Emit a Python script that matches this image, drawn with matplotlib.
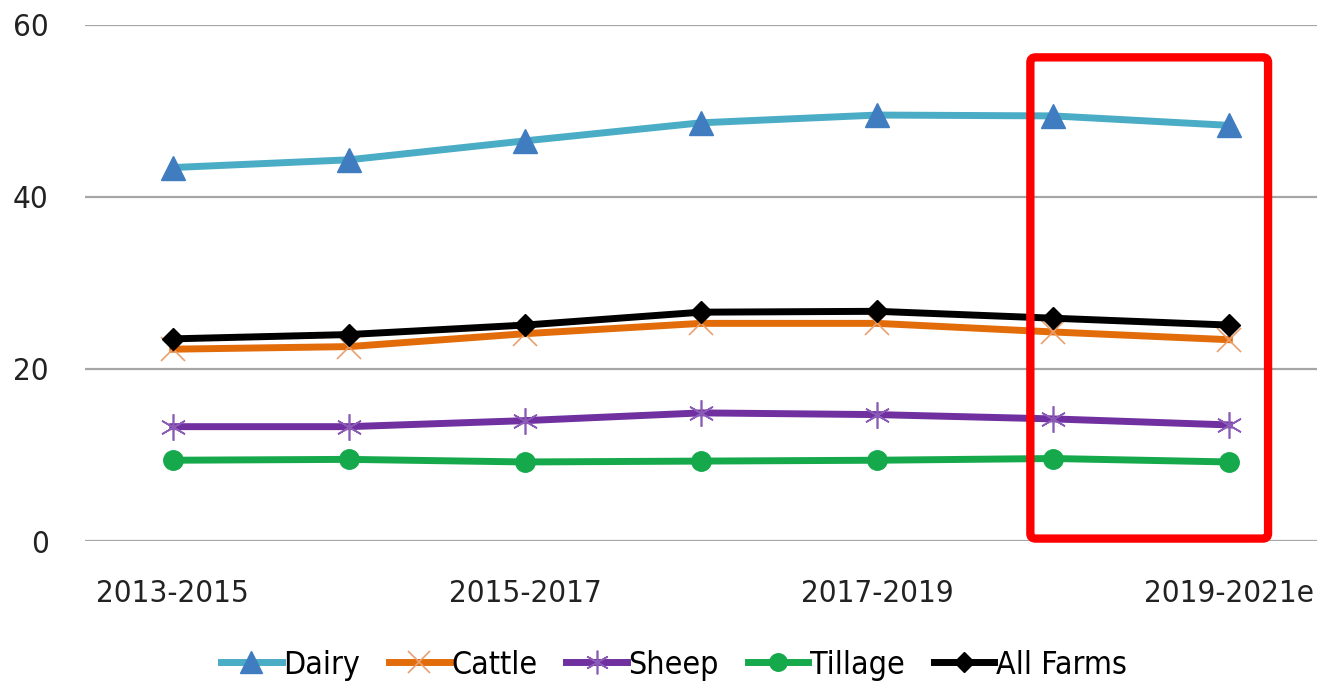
import matplotlib
matplotlib.use('Agg')
import matplotlib.pyplot as plt
from matplotlib.patches import FancyBboxPatch

periods = ['2013-2015', '2014-2016', '2015-2017', '2016-2018',
           '2017-2019', '2018-2020', '2019-2021e']
dairy = [43.4, 44.3, 46.5, 48.6, 49.5, 49.4, 48.3]
cattle = [22.3, 22.6, 24.1, 25.3, 25.3, 24.3, 23.4]
sheep = [13.3, 13.3, 14.0, 14.9, 14.7, 14.2, 13.5]
tillage = [9.4, 9.5, 9.2, 9.3, 9.4, 9.6, 9.2]
all_farms = [23.5, 24.0, 25.1, 26.6, 26.7, 25.9, 25.1]

plt.rcParams['font.family'] = ['DejaVu Sans']
plt.rcParams['font.stretch'] = 'condensed'

fig = plt.figure(figsize=(13.24, 6.85), dpi=100)
ax = fig.add_axes([0.064, 0.21, 0.931, 0.754])

x = list(range(len(periods)))
ax.plot(x, dairy, color='#4BACC6', lw=5, marker='^', ms=17,
        mfc='#3F7CC0', mec='#3F7CC0', label='Dairy', zorder=3)
ax.plot(x, cattle, color='#E36C0A', lw=5, marker='x', ms=17,
        mec='#E8A070', mew=1.2, label='Cattle', zorder=3)
ax.plot(x, sheep, color='#7030A0', lw=5, marker=(6, 2, 0), ms=19,
        mec='#8A5CB8', mew=1.2, label='Sheep', zorder=3)
ax.plot(x, tillage, color='#16A94C', lw=5, marker='o', ms=14,
        mfc='#16A94C', mec='#16A94C', label='Tillage', zorder=3)
ax.plot(x, all_farms, color='black', lw=5, marker='D', ms=11,
        label='All Farms', zorder=4)

ax.set_xlim(-0.5, len(periods) - 0.5)
ax.set_ylim(0, 60)
ax.set_yticks([0, 20, 40, 60])
ax.set_xticks(x[::2])
ax.set_xticklabels(periods[::2])
ax.grid(axis='y', color='#A6A6A6', lw=1.6)
ax.set_axisbelow(True)
for s in ax.spines.values():
    s.set_visible(False)
ax.tick_params(axis='both', length=0, labelsize=22.5, colors='#222222')
ax.tick_params(axis='y', pad=26)
ax.tick_params(axis='x', pad=27)

# highlight box around the last two periods
box = FancyBboxPatch((4.87, 0.3), 1.35, 55.9,
                     boxstyle='round,pad=0,rounding_size=0.03',
                     fill=False, ec='#FF0000', lw=6, clip_on=False, zorder=5,
                     mutation_aspect=20)
ax.add_patch(box)

ax.legend(loc='center', bbox_to_anchor=(0.478, -0.24), ncol=5,
          frameon=False, fontsize=23, handlelength=1.9, handletextpad=0.05,
          columnspacing=0.9, markerscale=0.9)

fig.savefig('out.png', dpi=100)
